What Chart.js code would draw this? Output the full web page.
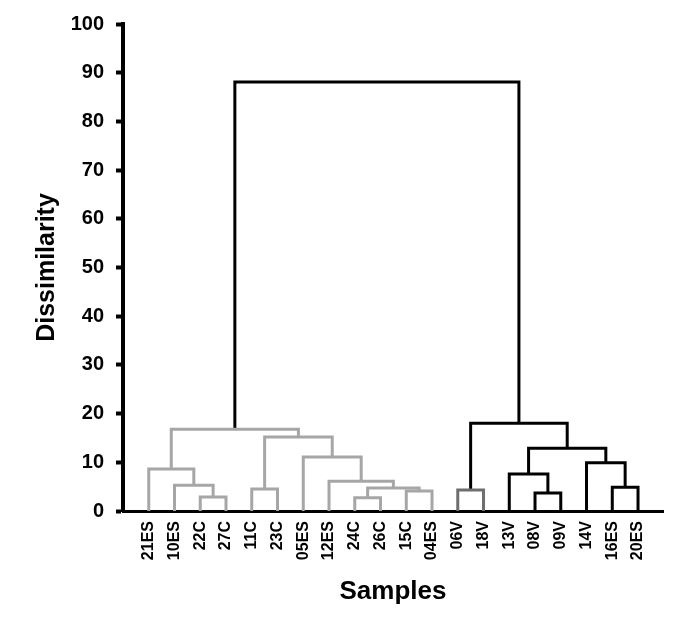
<!DOCTYPE html>
<html>
<head>
<meta charset="utf-8">
<script src="https://cdn.jsdelivr.net/npm/chart.js@4.4.1/dist/chart.umd.min.js"></script>
<style>
  html, body { margin: 0; padding: 0; background: #fff; }
  #wrap { width: 685px; height: 621px; }
</style>
</head>
<body>
<div id="wrap"><canvas id="dendro"></canvas></div>
<script>
// leaves in the order they sit along the bottom axis
const samples = ['21ES', '10ES', '22C', '27C', '11C', '23C', '05ES', '12ES', '24C', '26C',
                 '15C', '04ES', '06V', '18V', '13V', '08V', '09V', '14V', '16ES', '20ES'];

// merge i makes node 20+i from mergeA[i] and mergeB[i] at mergeHeight[i]
const mergeA = [2, 1, 0, 4, 8, 10, 24, 7, 6, 23, 22, 12, 15, 14, 18, 17, 33, 31, 30];
const mergeB = [3, 20, 21, 5, 9, 11, 25, 26, 27, 28, 29, 13, 16, 32, 19, 34, 35, 36, 37];
const mergeHeight = [2.9, 5.3, 8.6, 4.5, 2.7, 4.1, 4.7, 6.1, 11.1, 15.2, 16.8,
                     4.3, 3.7, 7.6, 4.9, 9.9, 12.9, 18.0, 88.1];
// 0 = left cluster, 1 = 06V/18V pair, 2 = right cluster
const mergeGroup = [0, 0, 0, 0, 0, 0, 0, 0, 0, 0, 0, 1, 2, 2, 2, 2, 2, 2, 2];

const yTicks = [0, 10, 20, 30, 40, 50, 60, 70, 80, 90, 100];

const groupColors = ['#a6a6a6', '#6e6e6e', '#000000'];
const fontFamily = "'Liberation Sans', Arial, sans-serif";

// leaf positions are their index, each merge sits half-way between its children
const nodeX = samples.map((s, i) => i);
const nodeH = samples.map(() => 0);
const datasets = [];
mergeA.forEach((a, i) => {
    const b = mergeB[i];
    const h = mergeHeight[i];
    datasets.push({
        data: [
            { x: nodeX[a], y: nodeH[a] },
            { x: nodeX[a], y: h },
            { x: nodeX[b], y: h },
            { x: nodeX[b], y: nodeH[b] }
        ],
        borderColor: groupColors[mergeGroup[i]],
        borderWidth: 3,
        showLine: true,
        pointRadius: 0,
        fill: false
    });
    nodeX.push((nodeX[a] + nodeX[b]) / 2);
    nodeH.push(h);
});

const ctx = document.getElementById('dendro').getContext('2d');
new Chart(ctx, {
    type: 'scatter',
    data: { datasets },
    options: {
        responsive: true,
        maintainAspectRatio: false,
        animation: false,
        layout: { padding: { top: 23, right: 22, bottom: 0, left: 0 } },
        elements: { line: { tension: 0, borderCapStyle: 'butt', borderJoinStyle: 'miter' } },
        plugins: { legend: { display: false }, tooltip: { enabled: false } },
        scales: {
            x: {
                type: 'linear',
                min: -1,
                max: 19.97,
                afterBuildTicks: (scale) => { scale.ticks = samples.map((s, i) => ({ value: i })); },
                afterFit: (scale) => { scale.height = 110; },
                grid: { display: false, drawTicks: false },
                border: { display: true, color: '#000', width: 3 },
                ticks: {
                    autoSkip: false,
                    minRotation: 90,
                    maxRotation: 90,
                    padding: 10,
                    color: '#000',
                    font: { family: fontFamily, size: 16, weight: 'bold' },
                    callback: (v) => samples[v]
                },
                title: {
                    display: true,
                    text: 'Samples',
                    color: '#000',
                    font: { family: fontFamily, size: 26, weight: 'bold' },
                    padding: { top: 0, bottom: 14 }
                }
            },
            y: {
                min: 0,
                max: 100,
                afterBuildTicks: (scale) => { scale.ticks = yTicks.map(v => ({ value: v })); },
                afterFit: (scale) => { scale.width = 123; },
                grid: { drawOnChartArea: false, drawTicks: true, tickLength: 7, tickWidth: 4, tickColor: '#000' },
                border: { display: true, color: '#000', width: 4 },
                ticks: {
                    padding: 12,
                    color: '#000',
                    font: { family: fontFamily, size: 20, weight: 'bold' }
                },
                title: {
                    display: true,
                    text: 'Dissimilarity',
                    color: '#000',
                    font: { family: fontFamily, size: 25, weight: 'bold' },
                    padding: { top: 32, bottom: 0 }
                }
            }
        }
    }
});
</script>
</body>
</html>
